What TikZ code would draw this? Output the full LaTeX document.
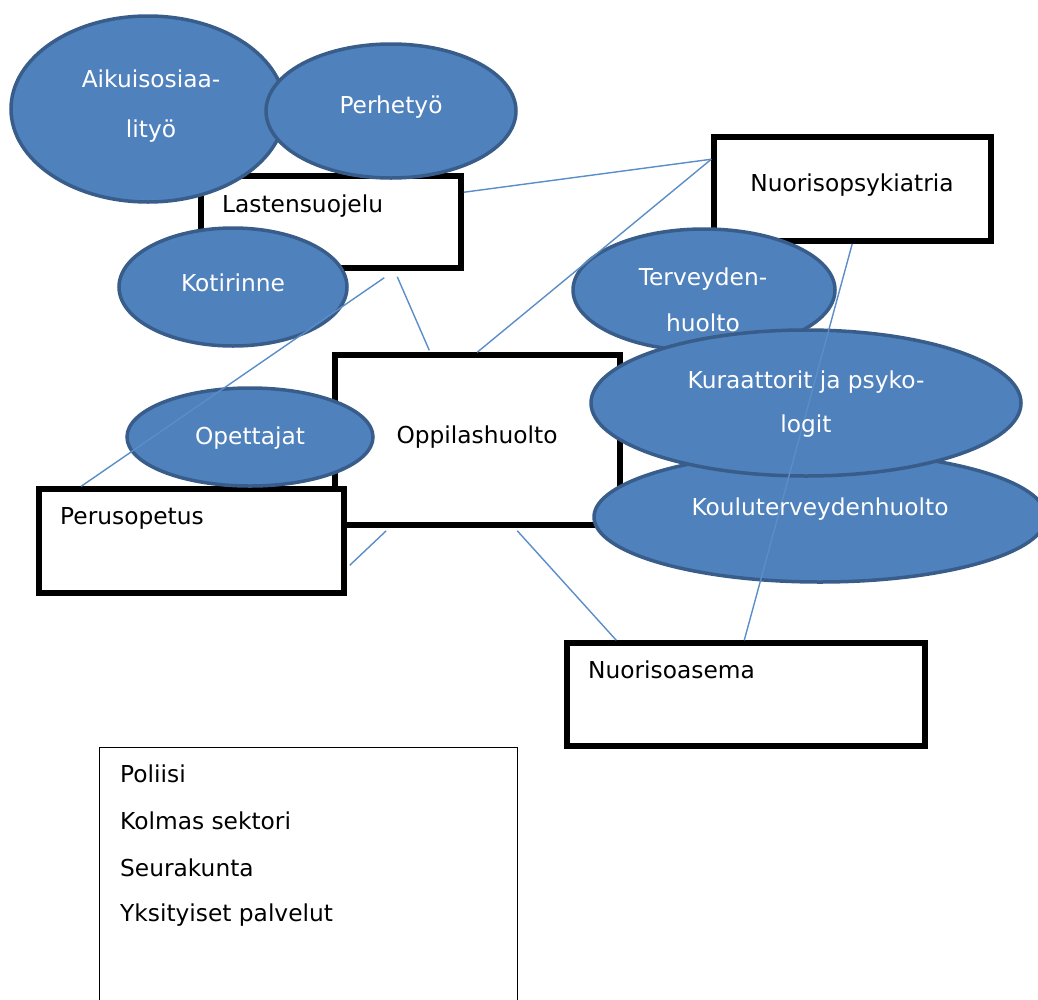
\documentclass[tikz,border=0pt]{standalone}
\usepackage{fontspec}
\setmainfont{DejaVu Sans}
\usetikzlibrary{shapes.geometric,calc}
\definecolor{bfill}{HTML}{4F81BD}
\definecolor{bedge}{HTML}{385D8A}
\definecolor{blink}{HTML}{5B8DC8}
\begin{document}
\begin{tikzpicture}[x=1pt,y=-1pt,
  bubble/.style={ellipse,fill=bfill,draw=bedge,line width=3.5pt,inner sep=0pt},
  box/.style={rectangle,fill=white,draw=black,line width=5.5pt,inner sep=0pt},
  wtxt/.style={text=white,font=\fontsize{23.3}{28}\selectfont,inner sep=0pt},
  btxt/.style={text=black,font=\fontsize{23.3}{28}\selectfont,inner sep=0pt},
  link/.style={draw=blink,line width=1.4pt}]
\useasboundingbox (0,0) rectangle (1038,999);

% left upper group
\node[box,minimum width=260pt,minimum height=92pt] (lasten) at (331,222) {};
\node[bubble,minimum width=274pt,minimum height=186pt] (aikuis) at (148,109) {};
\node[bubble,minimum width=250pt,minimum height=134pt] (perhe) at (391,111) {};
\node[bubble,minimum width=228pt,minimum height=118pt] (koti) at (233,287) {};

% middle
\node[box,minimum width=285pt,minimum height=170pt] (oppi) at (477.5,440) {};
\node[box,minimum width=305pt,minimum height=104pt] (perus) at (191.5,541) {};
\node[bubble,minimum width=246pt,minimum height=98pt] (opett) at (250,437) {};

% right group
\node[box,minimum width=277pt,minimum height=104pt] (psyk) at (852.5,189) {};
\node[bubble,minimum width=262pt,minimum height=122pt] (terv) at (704,290) {};
\node[bubble,minimum width=452pt,minimum height=130pt] (koulu) at (820,517) {};
\node[bubble,minimum width=430pt,minimum height=146pt] (kuraat) at (806,403) {};

\node[box,minimum width=358pt,minimum height=103pt] (nasema) at (746,694.5) {};

% bottom list box (open at the bottom edge)
\node[minimum width=417pt,minimum height=260pt,inner sep=0pt] (lista) at (308.5,878) {};
\draw[black,line width=1pt] (lista.south west) -- (lista.north west) -- (lista.north east) -- (lista.south east);

% connectors
\draw[link] ($(lasten.north east)+(0,19)$) -- ($(psyk.north west)+(0,25)$);
\draw[link] ($(oppi.north west)+(145,0)$) -- ($(psyk.north west)+(0,25)$);
\draw[link] ($(lasten.south west)+(199,6)$) -- ($(oppi.north west)+(97,-2)$);
\draw[link] ($(lasten.south west)+(186,7)$) -- ($(perus.north west)+(45,0)$);
\draw[link] ($(oppi.south west)+(54,3)$) -- ($(perus.north east)+(3,79)$);
\draw[link] ($(oppi.south west)+(185,3)$) -- ($(nasema.north west)+(52,0)$);
\draw[link] ($(psyk.south west)+(141,0)$) -- ($(nasema.north west)+(180,0)$);

% labels
\node[wtxt,align=center,font=\fontsize{23.3}{50}\selectfont] (taikuis) at (151,106) {Aikuisosiaa-\\lityö};
\node[wtxt] (tperhe) at (391,107) {Perhetyö};
\node[btxt,anchor=west] (tlasten) at (222,206) {Lastensuojelu};
\node[wtxt] (tkoti) at (233,283) {Kotirinne};
\node[btxt] (tpsyk) at (852,185) {Nuorisopsykiatria};
\node[wtxt,align=center,font=\fontsize{23.3}{46}\selectfont] (tterv) at (703,300) {Terveyden-\\huolto};
\node[wtxt,align=center,font=\fontsize{23.3}{44}\selectfont] (tkuraat) at (806,404) {Kuraattorit ja psyko-\\logit};
\node[wtxt] (topett) at (250,438) {Opettajat};
\node[btxt] (toppi) at (477,437) {Oppilashuolto};
\node[wtxt] (tkoulu) at (820,509) {Kouluterveydenhuolto};
\node[btxt,anchor=west] (tperus) at (60,518) {Perusopetus};
\node[btxt,anchor=west] (tnasema) at (588,670) {Nuorisoasema};
\node[btxt,anchor=west] (l1) at (120,774) {Poliisi};
\node[btxt,anchor=west] (l2) at (120,821) {Kolmas sektori};
\node[btxt,anchor=west] (l3) at (120,868) {Seurakunta};
\node[btxt,anchor=west] (l4) at (120,915) {Yksityiset palvelut};
\end{tikzpicture}
\end{document}
